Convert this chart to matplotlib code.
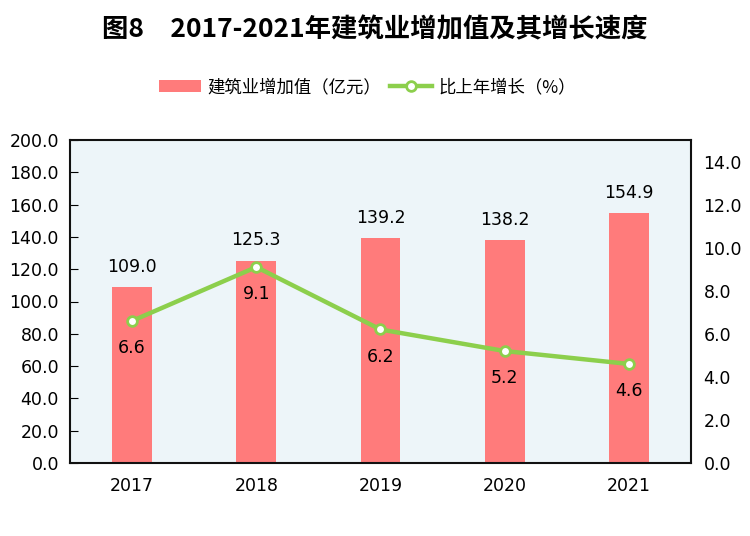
import matplotlib
matplotlib.use("Agg")
import matplotlib.pyplot as plt
import numpy as np

plt.rcParams['font.family'] = ['Noto Sans CJK SC', 'DejaVu Sans']

years   = ["2017", "2018", "2019", "2020", "2021"]
value   = [109.0, 125.3, 139.2, 138.2, 154.9]   # 亿元
growth  = [6.6, 9.1, 6.2, 5.2, 4.6]             # %

bar_color  = "#ff7b7b"
line_color = "#8ccf4c"
num_font   = "DejaVu Sans"

fig = plt.figure(figsize=(7.5, 5.36), dpi=100)
ax = fig.add_axes([70/750, 1-463/536, 621/750, 323/536])
ax.set_facecolor("#edf5f9")

x = np.arange(len(years))
ax.bar(x, value, width=0.32, color=bar_color, label="建筑业增加值（亿元）", zorder=2)
for xi, v in zip(x, value):
    ax.text(xi, v + 7, f"{v:.1f}", ha="center", va="bottom", fontsize=12.5, family=num_font)

ax.set_xlim(-0.5, 4.5)
ax.set_ylim(0, 200)
ax.set_yticks(np.arange(0, 201, 20))
ax.set_yticklabels([f"{t:.1f}" for t in np.arange(0, 201, 20)], family=num_font)
ax.set_xticks(x)
ax.set_xticklabels(years, family=num_font)
ax.tick_params(axis="y", direction="in", length=6, labelsize=12.5, pad=8)
ax.tick_params(axis="x", length=0, labelsize=12.5, pad=10)
for s in ax.spines.values():
    s.set_linewidth(1.5)
    s.set_color("#111111")

ax2 = ax.twinx()
ax2.plot(x, growth, color=line_color, lw=3.2, marker="o", ms=7,
         mfc="white", mec=line_color, mew=2, label="比上年增长（%）", zorder=3)
for xi, g in zip(x, growth):
    ax2.text(xi, g - 0.85, f"{g:.1f}", ha="center", va="top", fontsize=12.5, family=num_font)
ax2.set_ylim(0, 15)
ax2.set_yticks(np.arange(0, 15, 2))
ax2.set_yticklabels([f"{t:.1f}" for t in np.arange(0, 15, 2)], family=num_font)
ax2.tick_params(axis="y", length=0, labelsize=12.5, pad=9)
for s in ax2.spines.values():
    s.set_visible(False)

fig.text(0.5, 1-30/536, "图8　2017-2021年建筑业增加值及其增长速度", ha="center", va="center",
         fontsize=19, fontweight="bold")

h1, l1 = ax.get_legend_handles_labels()
h2, l2 = ax2.get_legend_handles_labels()
fig.legend(h1 + h2, l1 + l2, loc="center", bbox_to_anchor=(0.49, 1-87/536), ncol=2,
           frameon=False, fontsize=12.5, handlelength=2.4, handletextpad=0.4, columnspacing=0.5)

plt.savefig("out.png", dpi=100)
plt.close()
